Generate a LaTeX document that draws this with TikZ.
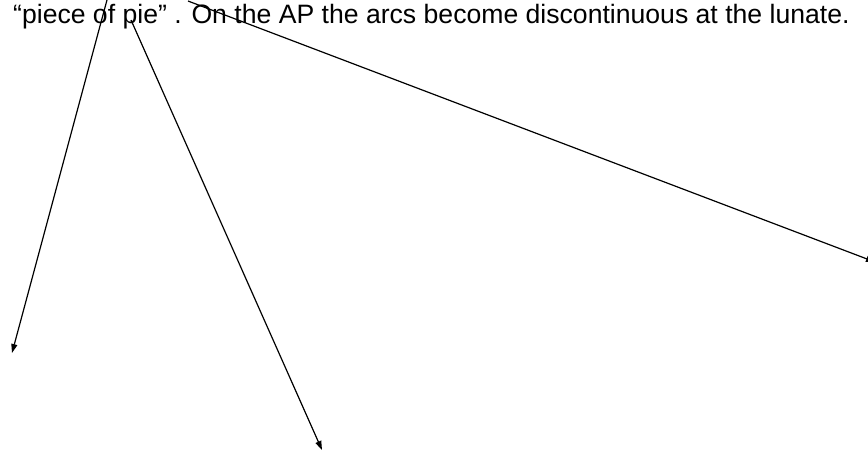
\documentclass[tikz,border=0pt]{standalone}
\usepackage{fontspec}
\setmainfont{Liberation Sans}
\usetikzlibrary{arrows.meta}
\begin{document}
\begin{tikzpicture}[x=1pt,y=-1pt,
  conn/.style={draw=black,line width=1.2pt,-{Triangle[length=9pt,width=6pt]}},
  txt/.style={inner sep=0pt,anchor=base west,font=\fontsize{26.6}{30}\selectfont}]
\useasboundingbox (0,0) rectangle (868,451);
\node[txt] (t) at (13,23) {“piece of pie” . On the AP the arcs become discontinuous at the lunate.};
\coordinate (s1) at (107,0);
\coordinate (e1) at (12,353);
\coordinate (s2) at (131,20);
\coordinate (e2) at (322,450);
\coordinate (s3) at (188,1);
\coordinate (e3) at (875,262);
\draw[conn] (s1) -- (e1);
\draw[conn] (s2) -- (e2);
\draw[conn] (s3) -- (e3);
\end{tikzpicture}
\end{document}
